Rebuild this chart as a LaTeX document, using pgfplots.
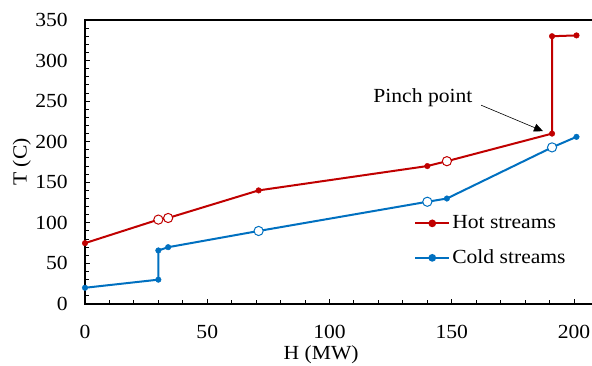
\documentclass[border=0pt]{standalone}
\usepackage{fontspec}
\setmainfont{Liberation Serif}[FakeStretch=1.08]
\usepackage{pgfplots}
\pgfplotsset{compat=1.18}
\usetikzlibrary{arrows.meta}
\definecolor{hotred}{HTML}{C00000}
\definecolor{coldblue}{HTML}{0070C0}
\begin{document}
\fontsize{20bp}{23bp}\selectfont
\begin{tikzpicture}
\begin{axis}[
  scale only axis,
  width=513.5bp, height=284bp,
  at={(0,0)}, anchor=south west,
  xmin=0, xmax=210, ymin=0, ymax=350,
  xtick={0,50,100,150,200},
  ytick={0,50,100,150,200,250,300,350},
  minor x tick num=4, minor y tick num=4,
  xtick pos=bottom, ytick pos=left,
  tick align=inside,
  major tick length=5bp, minor tick length=4bp,
  axis line style={line width=1.2bp},
  every tick/.style={black, line width=1bp},
  /pgf/number format/assume math mode=true,
  tick label style={font=\fontsize{20bp}{23bp}\selectfont},
  xticklabel style={anchor=base, inner sep=0pt, yshift=-34bp},
  yticklabel style={anchor=east, inner sep=0pt, xshift=-17bp},
  label style={font=\fontsize{20bp}{23bp}\selectfont},
  xlabel={H (MW)}, ylabel={T (C)},
  xlabel style={at={(axis description cs:0.46,-0.197)}, anchor=base},
  ylabel style={at={(axis description cs:-0.123,0.5)}, anchor=center},
  legend style={draw=none, fill=none, at={(rel axis cs:0.635,0.327)}, anchor=north west,
    font=\fontsize{20bp}{23bp}\selectfont, row sep=14bp},
  legend cell align=left,
  legend image code/.code={\draw[mark repeat=2,mark phase=2] plot coordinates {(0cm,0cm) (0.6cm,0cm) (1.2cm,0cm)};},
]
% Hot streams
\addplot[hotred, line width=2bp, forget plot] coordinates {
 (0,75) (30,104) (34,106) (71,140) (140,170) (148,176) (191,210) (191,330) (201,331)};
\addplot[hotred, only marks, mark=*, mark size=2.8bp, forget plot] coordinates {
 (0,75) (71,140) (140,170) (191,210) (191,330) (201,331)};
\addplot[hotred, only marks, mark=*, mark size=4.6bp, line width=1bp, mark options={fill=white}, forget plot] coordinates {
 (30,104) (34,106) (148,176)};
% Cold streams
\addplot[coldblue, line width=2bp, forget plot] coordinates {
 (0,20) (30,30) (30,66) (34,70) (71,90) (140,126) (148,130) (191,193) (201,206)};
\addplot[coldblue, only marks, mark=*, mark size=2.8bp, forget plot] coordinates {
 (0,20) (30,30) (30,66) (34,70) (148,130) (201,206)};
\addplot[coldblue, only marks, mark=*, mark size=4.6bp, line width=1bp, mark options={fill=white}, forget plot] coordinates {
 (71,90) (140,126) (191,193)};
\addlegendimage{hotred, line width=2bp, mark=*, mark size=2.8bp}
\addlegendentry{Hot streams}
\addlegendimage{coldblue, line width=2bp, mark=*, mark size=2.8bp}
\addlegendentry{Cold streams}
\node[anchor=base] at (axis cs:138.2,247.8) {Pinch point};
\draw[-{Triangle[length=9bp,width=8bp]}, line width=0.6bp] (axis cs:162,245) -- (axis cs:187.3,213);
\end{axis}
\pgfresetboundingbox
\useasboundingbox (-85bp,-62bp) rectangle (507bp,304bp);
\end{tikzpicture}
\end{document}
